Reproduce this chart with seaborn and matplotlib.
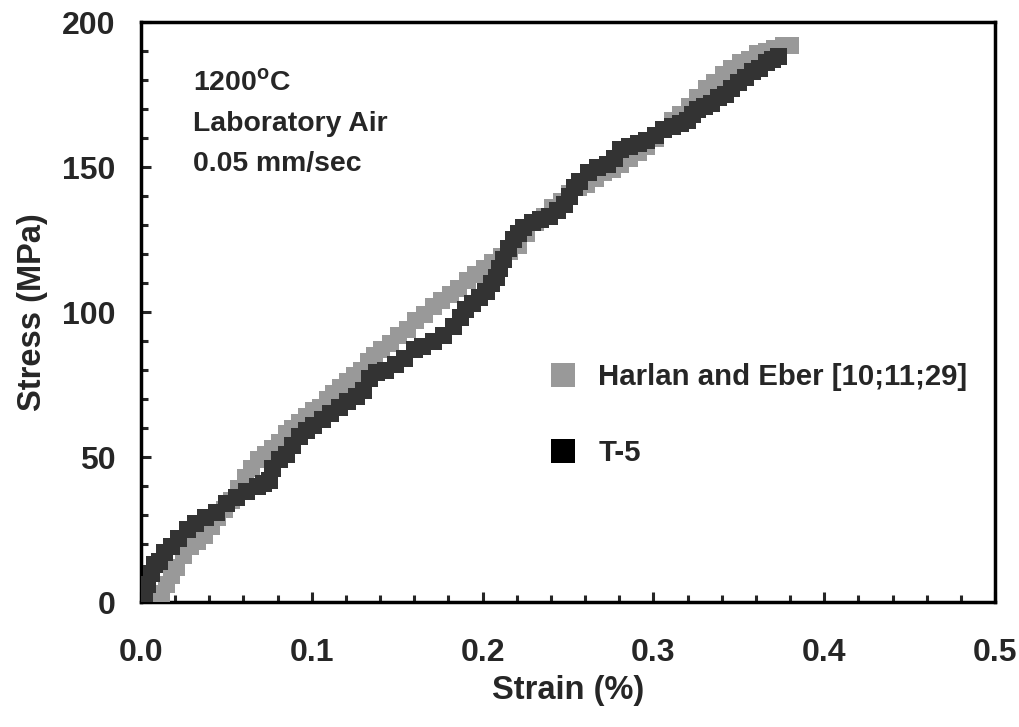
import matplotlib
matplotlib.use("Agg")
import matplotlib.pyplot as plt
import seaborn as sns
import pandas as pd
from matplotlib.ticker import MultipleLocator
from matplotlib.lines import Line2D

# ---- data ----
harlan_strain = [0.000, 0.003, 0.006, 0.009, 0.012, 0.015, 0.018, 0.021,
                 0.025, 0.029, 0.033, 0.037, 0.041, 0.045, 0.049, 0.053, 0.057, 0.061,
                 0.065, 0.069, 0.073, 0.077, 0.081, 0.085, 0.089, 0.093, 0.097, 0.101,
                 0.105, 0.109, 0.113, 0.117, 0.121, 0.125, 0.129, 0.133, 0.137, 0.141,
                 0.146, 0.151, 0.156, 0.161, 0.166, 0.171, 0.176, 0.181, 0.186, 0.191,
                 0.196, 0.201, 0.206, 0.211, 0.216, 0.221, 0.226, 0.231, 0.236, 0.241,
                 0.246, 0.251, 0.256, 0.261, 0.266, 0.271, 0.276, 0.281, 0.286, 0.291,
                 0.296, 0.301, 0.306, 0.311, 0.316, 0.321, 0.326, 0.331, 0.336, 0.341,
                 0.346, 0.351, 0.356, 0.361, 0.366, 0.371, 0.376, 0.380]
harlan_stress = [0, 0, 0, 1, 3, 6, 9, 12,
                 16, 19, 21, 23, 26, 29, 32, 35, 39, 43,
                 46, 49, 51, 53, 55, 58, 60, 62, 64, 66,
                 67, 70, 72, 74, 76, 78, 80, 83, 85, 87,
                 89, 92, 94, 97, 99, 102, 104, 106, 108, 111,
                 113, 115, 117, 119, 121, 123, 127, 131, 133, 136,
                 138, 141, 143, 144, 146, 148, 149, 151, 153, 155,
                 157, 160, 163, 166, 168, 171, 174, 177, 179, 182,
                 184, 186, 187, 189, 190, 191, 192, 192]

t5_strain = [0.000, 0.002, 0.004, 0.006, 0.008, 0.011, 0.014, 0.018, 0.022, 0.027,
             0.032, 0.038, 0.044, 0.050, 0.056, 0.062, 0.068, 0.072, 0.075, 0.077,
             0.081, 0.085, 0.089, 0.093, 0.097, 0.101, 0.106, 0.111, 0.116, 0.121,
             0.126, 0.130, 0.134, 0.138, 0.143, 0.149, 0.154, 0.160, 0.165, 0.171,
             0.177, 0.183, 0.187, 0.190, 0.194, 0.198, 0.202, 0.205, 0.208, 0.210,
             0.212, 0.215, 0.218, 0.221, 0.224, 0.229, 0.234, 0.239, 0.244, 0.248,
             0.251, 0.254, 0.257, 0.262, 0.267, 0.273, 0.277, 0.281, 0.286, 0.291,
             0.296, 0.301, 0.306, 0.311, 0.316, 0.320, 0.323, 0.326, 0.330, 0.334,
             0.338, 0.342, 0.346, 0.350, 0.354, 0.358, 0.362, 0.366, 0.370, 0.373]
t5_stress = [0, 2, 6, 10, 13, 14, 17, 19, 22, 25,
             27, 29, 31, 34, 36, 38, 40, 41, 42, 46,
             49, 51, 54, 57, 59, 61, 63, 65, 67, 69,
             71, 73, 77, 79, 80, 82, 84, 87, 88, 90,
             92, 95, 98, 101, 103, 105, 107, 110, 112, 115,
             118, 122, 125, 127, 129, 131, 132, 133, 135, 137,
             140, 143, 145, 148, 150, 151, 153, 156, 157, 158,
             159, 161, 163, 164, 165, 166, 168, 170, 171, 172,
             174, 175, 177, 179, 181, 183, 184, 186, 187, 188]

series_names = ["Harlan and Eber [10;11;29]", "T-5"]
x_ticks = [0.0, 0.1, 0.2, 0.3, 0.4, 0.5]
y_ticks = [0, 50, 100, 150, 200]
annotation_lines = ["1200$^\\mathregular{o}$C", "Laboratory Air", "0.05 mm/sec"]

df = pd.concat([
    pd.DataFrame({"strain": harlan_strain, "stress": harlan_stress, "series": series_names[0]}),
    pd.DataFrame({"strain": t5_strain, "stress": t5_stress, "series": series_names[1]}),
], ignore_index=True)

sns.set_theme(style="white")
plt.rcParams["font.family"] = ["Liberation Sans", "DejaVu Sans"]
plt.rcParams["font.weight"] = "bold"

fig = plt.figure(figsize=(10.2, 7.27), dpi=100)
ax = fig.add_axes([0.1382, 0.1719, 0.8373, 0.7978])

palette = {series_names[0]: "#999999", series_names[1]: "#333333"}
sns.scatterplot(data=df, x="strain", y="stress", hue="series", palette=palette,
                marker="s", s=150, linewidth=0, ax=ax, legend=False, zorder=3)

ax.set_xlim(0, 0.5)
ax.set_ylim(0, 200)
ax.set_xticks(x_ticks)
ax.set_xticklabels([f"{v:.1f}" for v in x_ticks])
ax.set_yticks(y_ticks)
ax.set_yticklabels([str(v) for v in y_ticks])
ax.xaxis.set_minor_locator(MultipleLocator(0.02))
ax.yaxis.set_minor_locator(MultipleLocator(10))
ax.tick_params(axis="both", which="major", direction="in", length=7, width=2.2,
               labelsize=23, top=False, right=False, bottom=True, left=True)
ax.tick_params(axis="x", which="major", pad=26)
ax.tick_params(axis="y", which="major", pad=18.5)
ax.tick_params(axis="both", which="minor", direction="in", length=5, width=2.2,
               top=False, right=False, bottom=True, left=True)
for lab in ax.get_xticklabels() + ax.get_yticklabels():
    lab.set_fontweight("bold")
for sp in ax.spines.values():
    sp.set_visible(True)
    sp.set_linewidth(2.5)
    sp.set_color("black")

ax.set_xlabel("Strain (%)", fontsize=23.5, fontweight="bold", labelpad=5)
ax.set_ylabel("Stress (MPa)", fontsize=23.5, fontweight="bold", labelpad=10)

ax.text(0.061, 0.918, "\n".join(annotation_lines), transform=ax.transAxes,
        fontsize=20.4, fontweight="bold", va="top", ha="left", linespacing=1.72)

handles = [Line2D([], [], linestyle="none", marker="s", markersize=17,
                  markerfacecolor="#999999", markeredgewidth=0),
           Line2D([], [], linestyle="none", marker="s", markersize=17,
                  markerfacecolor="#000000", markeredgewidth=0)]
leg = ax.legend(handles, series_names, loc="upper left", bbox_to_anchor=(0.446, 0.458),
                frameon=False, prop={"size": 21.2, "weight": "bold"},
                labelspacing=1.65, handletextpad=0.69, handlelength=1.0)

fig.savefig("out.png", dpi=100)
